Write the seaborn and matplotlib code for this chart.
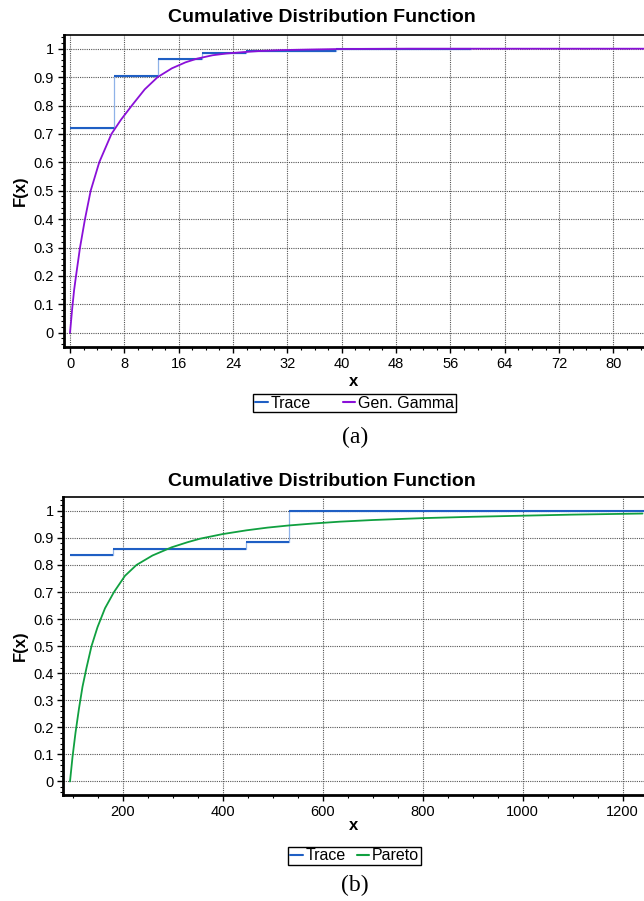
import matplotlib
matplotlib.use("Agg")
import matplotlib.pyplot as plt
import matplotlib.ticker as mticker
import seaborn as sns
import pandas as pd

# ---------------- data ----------------
# (a) trace empirical CDF steps and Gen. Gamma fit
trace_a_x = [0, 6.5, 12.9, 19.4, 25.9, 39.2, 51, 59]
trace_a_y = [0.72, 0.905, 0.965, 0.985, 0.993, 0.998, 1.0, 1.0]
gamma_x = [0, 0.3, 0.6, 0.88, 1.47, 2.2, 3.04, 4.3, 6.1, 7.5, 9.1, 11,
           12.9, 15, 17, 18.7, 21, 23, 25.5, 28, 31, 35, 40, 50, 86]
gamma_y = [0, 0.08, 0.15, 0.2, 0.3, 0.4, 0.5, 0.6, 0.7, 0.75, 0.8, 0.857,
           0.9, 0.931, 0.952, 0.965, 0.977, 0.983, 0.988, 0.992, 0.995, 0.997,
           0.999, 1.0, 1.0]

# (b) trace empirical CDF steps and Pareto fit
trace_b_x = [95, 181.6, 447, 533.7, 975, 1243]
trace_b_y = [0.838, 0.858, 0.883, 0.998, 1.0, 1.0]
pareto_x = [95, 100, 106, 113, 120, 128, 138, 150, 165, 183, 205, 228, 260,
            298, 330, 355, 400, 448, 490, 533, 580, 635, 700, 800, 900, 1000,
            1100, 1240]
pareto_y = [0, 0.09, 0.18, 0.27, 0.35, 0.42, 0.50, 0.57, 0.64, 0.70, 0.76,
            0.80, 0.835, 0.865, 0.884, 0.897, 0.914, 0.928, 0.938, 0.946,
            0.953, 0.96, 0.966, 0.973, 0.978, 0.982, 0.986, 0.99]

y_ticks = [0, 0.1, 0.2, 0.3, 0.4, 0.5, 0.6, 0.7, 0.8, 0.9, 1.0]
y_tick_labels = ["0", "0.1", "0.2", "0.3", "0.4", "0.5", "0.6", "0.7", "0.8", "0.9", "1"]
x_ticks_a = [0, 8, 16, 24, 32, 40, 48, 56, 64, 72, 80]
x_ticks_b = [200, 400, 600, 800, 1000, 1200]

title_text = "Cumulative Distribution Function"
legend_a = ["Trace", "Gen. Gamma"]
legend_b = ["Trace", "Pareto"]
panel_labels = ["(a)", "(b)"]

# ---------------- style ----------------
sns.set_theme(style="ticks")
plt.rcParams["font.family"] = ["Liberation Sans", "DejaVu Sans"]
plt.rcParams["axes.linewidth"] = 1.0
plt.rcParams["text.color"] = "black"
plt.rcParams["axes.labelcolor"] = "black"
plt.rcParams["xtick.color"] = "black"
plt.rcParams["ytick.color"] = "black"

C_TRACE = "#1f5fc4"
C_TRACE_LIGHT = "#8fb2e8"
C_GAMMA = "#8a10d8"
C_PARETO = "#10a040"

W, H = 644, 901
fig = plt.figure(figsize=(W / 100, H / 100), dpi=100)


def px_axes(left, top, right, bottom):
    return fig.add_axes([left / W, 1 - bottom / H, (right - left) / W, (bottom - top) / H])


def style_axes(ax, xlim, xticks, xminor):
    ax.set_xlim(*xlim)
    ax.set_ylim(-0.05, 1.05)
    ax.set_xticks(xticks)
    ax.set_xticklabels([str(t) for t in xticks])
    ax.set_yticks(y_ticks)
    ax.set_yticklabels(y_tick_labels)
    ax.xaxis.set_minor_locator(mticker.MultipleLocator(xminor))
    ax.yaxis.set_minor_locator(mticker.MultipleLocator(0.02))
    ax.grid(True, which="major", linestyle=(0, (1, 1)), color="#555555", linewidth=0.8)
    ax.set_axisbelow(True)
    ax.spines["right"].set_visible(False)
    ax.spines["left"].set_linewidth(2.0)
    ax.spines["bottom"].set_linewidth(2.0)
    ax.spines["top"].set_linewidth(1.2)
    for s in ax.spines.values():
        s.set_color("black")
    ax.tick_params(which="major", direction="out", length=4, width=1.0,
                   labelsize=10.5, pad=3, colors="black")
    ax.tick_params(which="minor", direction="out", length=2, width=0.8, colors="black")
    ax.tick_params(axis="x", which="both", top=False)
    ax.tick_params(axis="y", which="both", right=False)


def draw_trace(ax, xs, ys):
    df = pd.DataFrame({"x": xs, "F": ys})
    sns.lineplot(data=df, x="x", y="F", ax=ax, color=C_TRACE_LIGHT, linewidth=0.9,
                 drawstyle="steps-post", legend=False, zorder=3)
    ax.hlines(ys[:-1], xs[:-1], xs[1:], colors=C_TRACE, linewidth=1.5, zorder=3)


def legend(labels, colors, cx, cy, colsp):
    handles = [plt.Line2D([], [], color=c, linewidth=1.5) for c in colors]
    leg = fig.legend(handles, labels, loc="center", bbox_to_anchor=(cx / W, 1 - cy / H),
                     ncol=2, frameon=True, fancybox=False, shadow=False,
                     fontsize=11.5, handlelength=0.8, handletextpad=0.15,
                     columnspacing=colsp, borderpad=0.12, borderaxespad=0,
                     labelcolor="black")
    fr = leg.get_frame()
    fr.set_edgecolor("black")
    fr.set_linewidth(1.0)
    fr.set_facecolor("white")
    fr.set_alpha(1)


def labels(ax, left, top, bottom, xlab_y):
    ax.set_ylabel("F(x)", fontsize=12, fontweight="bold", color="black")
    ax.set_xlabel("x", fontsize=12, fontweight="bold", color="black")
    ax.yaxis.set_label_coords((28 - left) / (W - left), 0.5)
    ax.xaxis.set_label_coords(0.5, (bottom - xlab_y) / (bottom - top))
    ax.xaxis.label.set_va("center")


# ---------------- panel (a) ----------------
ax1 = px_axes(63.5, 34.5, W, 347)
style_axes(ax1, (-0.96, 84.5), x_ticks_a, 2)
draw_trace(ax1, trace_a_x, trace_a_y)
sns.lineplot(x=gamma_x, y=gamma_y, ax=ax1, color=C_GAMMA, linewidth=1.3,
             sort=False, legend=False, zorder=4)
labels(ax1, 63.5, 34.5, 347, 382)
fig.text(0.5, 1 - 18 / H, title_text, ha="center", va="center",
         fontsize=14, fontweight="bold", color="black")
legend(legend_a, [C_TRACE, C_GAMMA], 354.5, 403, 2.0)
fig.text(355 / W, 1 - 437 / H, panel_labels[0], ha="center", va="center",
         fontsize=17, family=["Liberation Serif"], color="black")

# ---------------- panel (b) ----------------
ax2 = px_axes(63.3, 497.3, W, 795)
style_axes(ax2, (81.6, 1243), x_ticks_b, 50)
draw_trace(ax2, trace_b_x, trace_b_y)
sns.lineplot(x=pareto_x, y=pareto_y, ax=ax2, color=C_PARETO, linewidth=1.3,
             sort=False, legend=False, zorder=4)
labels(ax2, 63.3, 497.3, 795, 826)
fig.text(0.5, 1 - 482 / H, title_text, ha="center", va="center",
         fontsize=14, fontweight="bold", color="black")
legend(legend_b, [C_TRACE, C_PARETO], 354.5, 856, 0.7)
fig.text(355 / W, 1 - 885 / H, panel_labels[1], ha="center", va="center",
         fontsize=17, family=["Liberation Serif"], color="black")

fig.savefig("out.png", dpi=100)
